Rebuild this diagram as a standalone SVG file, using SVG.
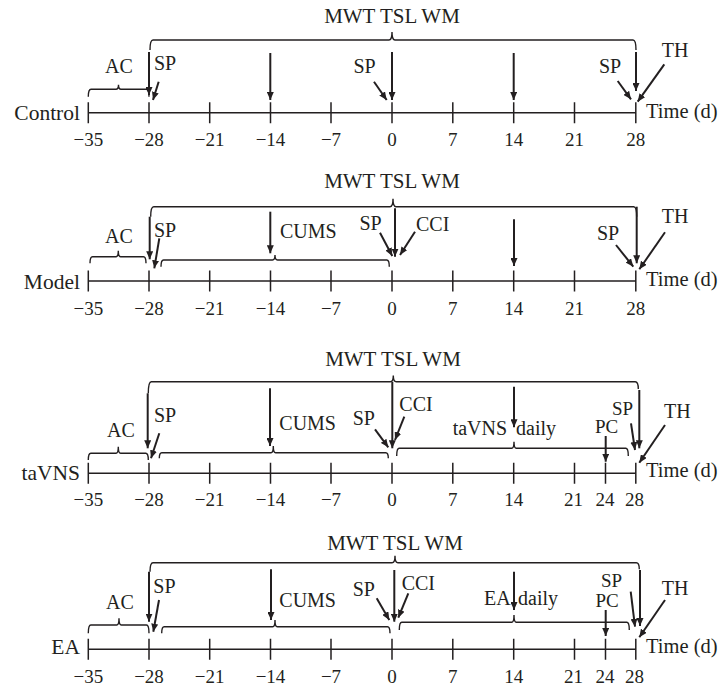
<svg xmlns="http://www.w3.org/2000/svg" width="720" height="686" viewBox="0 0 720 686">
<defs>
<style>
text{font-family:"Liberation Serif","Times New Roman",serif;fill:#231f20;font-size:20px}
.n{font-size:19px;text-anchor:middle}
.m{text-anchor:middle}
.w{font-size:21px}
.e{text-anchor:end;font-size:21.5px}
.td{font-size:20.5px}
.s{font-size:19px}
.ax{stroke:#231f20;stroke-width:1.5;fill:none}
.br{stroke:#231f20;stroke-width:1.4;fill:none}
.ar{stroke:#231f20;stroke-width:2;fill:none;marker-end:url(#ah)}
</style>
<marker id="ah" viewBox="0 0 8 7" refX="8" refY="3.5" markerWidth="8" markerHeight="7" markerUnits="userSpaceOnUse" orient="auto">
<path d="M0,0 L8,3.5 L0,7 z" fill="#231f20"/>
</marker>
</defs>

<g id="axes">
<g id="axis-control">
<path class="ax" d="M88.3,112.7 H635.8 M88.3,102.2 V123.2 M149,102.2 V123.2 M209.7,102.2 V123.2 M270.5,102.2 V123.2 M331,102.2 V123.2 M392,102.2 V123.2 M452.8,102.2 V123.2 M513.7,102.2 V123.2 M574.5,102.2 V123.2 M635.8,102.2 V123.2"/>
<text class="n" x="88.3" y="146">−35</text><text class="n" x="149" y="146">−28</text><text class="n" x="209.7" y="146">−21</text><text class="n" x="270.5" y="146">−14</text><text class="n" x="331" y="146">−7</text><text class="n" x="392" y="146">0</text><text class="n" x="452.8" y="146">7</text><text class="n" x="513.7" y="146">14</text><text class="n" x="574.5" y="146">21</text><text class="n" x="635.8" y="146">28</text>
<text class="e" x="80" y="120">Control</text>
<text class="td" x="646" y="118">Time (d)</text>
</g>
<g id="axis-model">
<path class="ax" d="M88.3,281 H635.8 M88.3,270.5 V291.5 M149,270.5 V291.5 M209.7,270.5 V291.5 M270.5,270.5 V291.5 M331,270.5 V291.5 M392,270.5 V291.5 M452.8,270.5 V291.5 M513.7,270.5 V291.5 M574.5,270.5 V291.5 M635.8,270.5 V291.5"/>
<text class="n" x="88.3" y="314.5">−35</text><text class="n" x="149" y="314.5">−28</text><text class="n" x="209.7" y="314.5">−21</text><text class="n" x="270.5" y="314.5">−14</text><text class="n" x="331" y="314.5">−7</text><text class="n" x="392" y="314.5">0</text><text class="n" x="452.8" y="314.5">7</text><text class="n" x="513.7" y="314.5">14</text><text class="n" x="574.5" y="314.5">21</text><text class="n" x="635.8" y="314.5">28</text>
<text class="e" x="80" y="288.5">Model</text>
<text class="td" x="646" y="285.5">Time (d)</text>
</g>
<g id="axis-tavns">
<path class="ax" d="M88.3,473.3 H635.8 M88.3,462.8 V483.8 M149,462.8 V483.8 M209.7,462.8 V483.8 M270.5,462.8 V483.8 M331,462.8 V483.8 M392,462.8 V483.8 M452.8,462.8 V483.8 M513.7,462.8 V483.8 M574.5,462.8 V483.8 M605.5,462.8 V483.8 M635.8,462.8 V483.8"/>
<text class="n" x="88.3" y="506">−35</text><text class="n" x="149" y="506">−28</text><text class="n" x="209.7" y="506">−21</text><text class="n" x="270.5" y="506">−14</text><text class="n" x="331" y="506">−7</text><text class="n" x="392" y="506">0</text><text class="n" x="452.8" y="506">7</text><text class="n" x="513.7" y="506">14</text><text class="n" x="573.5" y="506">21</text><text class="n" x="605" y="506">24</text><text class="n" x="634.5" y="506">28</text>
<text class="e" x="80" y="480">taVNS</text>
<text class="td" x="646" y="477">Time (d)</text>
</g>
<g id="axis-ea">
<path class="ax" d="M88.3,649.3 H635.8 M88.3,638.8 V659.8 M149,638.8 V659.8 M209.7,638.8 V659.8 M270.5,638.8 V659.8 M331,638.8 V659.8 M392,638.8 V659.8 M452.8,638.8 V659.8 M513.7,638.8 V659.8 M574.5,638.8 V659.8 M605.5,638.8 V659.8 M635.8,638.8 V659.8"/>
<text class="n" x="88.3" y="683">−35</text><text class="n" x="149" y="683">−28</text><text class="n" x="209.7" y="683">−21</text><text class="n" x="270.5" y="683">−14</text><text class="n" x="331" y="683">−7</text><text class="n" x="392" y="683">0</text><text class="n" x="452.8" y="683">7</text><text class="n" x="513.7" y="683">14</text><text class="n" x="573.5" y="683">21</text><text class="n" x="605" y="683">24</text><text class="n" x="634.5" y="683">28</text>
<text class="e" x="80" y="654">EA</text>
<text class="td" x="646" y="653">Time (d)</text>
</g>
</g>

<g id="brackets">
<g id="br-mwt-1"><path class="br" d="M150,50 Q150,40 153,40 L389,40 Q392,40 392,32 Q392,40 395,40 L633,40 Q636,40 636,50"/><text class="m w" x="392" y="23">MWT TSL WM</text></g>
<g id="br-ac-1"><path class="br" d="M88.3,96.7 Q88.3,89.3 91,89.3 L116,89.3 Q118.5,89.3 118.5,84.8 Q118.5,89.3 121,89.3 L146.5,89.3 Q149,89.3 149,96.7"/><text class="m" x="119" y="73">AC</text></g>

<g id="br-mwt-2"><path class="br" d="M150.7,216.7 Q150.7,206.7 153.7,206.7 L390,206.7 Q393,206.7 393,198.7 Q393,206.7 396,206.7 L633.7,206.7 Q636.7,206.7 636.7,216.7"/><text class="m w" x="392" y="188">MWT TSL WM</text></g>
<g id="br-ac-2"><path class="br" d="M90,263.3 Q90,256.7 92.5,256.7 L116,256.7 Q118.3,256.7 118.3,250.7 Q118.3,256.7 120.6,256.7 L143.5,256.7 Q146,256.7 146,263.3"/><text class="m" x="119" y="242.7">AC</text></g>
<g id="br-cums-2"><path class="br" d="M161,266.7 Q161,260 163.5,260 L272.5,260 Q275,260 275,255 Q275,260 277.5,260 L386.8,260 Q389.3,260 389.3,266.7"/><text x="280" y="238.3">CUMS</text></g>

<g id="br-mwt-3"><path class="br" d="M148.3,393.3 Q148.3,381.7 151.3,381.7 L390.3,381.7 Q393.3,381.7 393.3,375.5 Q393.3,381.7 396.3,381.7 L635.3,381.7 Q638.3,381.7 638.3,389"/><text class="m w" x="393" y="366">MWT TSL WM</text></g>
<g id="br-ac-3"><path class="br" d="M88.3,460 Q88.3,453.3 90.8,453.3 L116,453.3 Q118.3,453.3 118.3,446.7 Q118.3,453.3 120.6,453.3 L145.8,453.3 Q148.3,453.3 148.3,460"/><text class="m" x="121" y="436.7">AC</text></g>
<g id="br-cums-3"><path class="br" d="M159.3,458.3 Q159.3,452.7 161.8,452.7 L271,452.7 Q273.3,452.7 273.3,446 Q273.3,452.7 275.6,452.7 L385.8,452.7 Q388.3,452.7 388.3,458.3"/><text x="279.3" y="430">CUMS</text></g>
<g id="br-tavns-3"><path class="br" d="M396.7,456 Q396.7,448.3 399.2,448.3 L511.7,448.3 Q514,448.3 514,441.7 Q514,448.3 516.3,448.3 L625.8,448.3 Q628.3,448.3 628.3,456"/><text x="452.7" y="435">taVNS <tspan x="516">daily</tspan></text></g>

<g id="br-mwt-4"><path class="br" d="M150,571.7 Q150,562.7 153,562.7 L392,562.7 Q395,562.7 395,555.7 Q395,562.7 398,562.7 L636.3,562.7 Q639.3,562.7 639.3,569.3"/><text class="m w" x="395" y="550">MWT TSL WM</text></g>
<g id="br-ac-4"><path class="br" d="M88.3,633.3 Q88.3,625 90.8,625 L116.7,625 Q119,625 119,618.3 Q119,625 121.3,625 L146.5,625 Q149,625 149,633.3"/><text class="m" x="120" y="609.3">AC</text></g>
<g id="br-cums-4"><path class="br" d="M161.7,633.3 Q161.7,626.7 164.2,626.7 L272.7,626.7 Q275,626.7 275,620 Q275,626.7 277.3,626.7 L387.5,626.7 Q390,626.7 390,633.3"/><text x="279.3" y="606.7">CUMS</text></g>
<g id="br-ea-4"><path class="br" d="M399.3,630 Q399.3,622.3 401.8,622.3 L511.7,622.3 Q514,622.3 514,615 Q514,622.3 516.3,622.3 L626.8,622.3 Q629.3,622.3 629.3,630"/><text x="484" y="605">EA <tspan x="518">daily</tspan></text></g>
</g>

<g id="labels">
<text x="154" y="70">SP</text>
<text class="e" x="375.7" y="73" style="font-size:20px">SP</text>
<text x="599" y="73">SP</text>
<text x="661.7" y="56.7">TH</text>

<text x="154" y="236.7">SP</text>
<text class="e" x="381.7" y="230" style="font-size:20px">SP</text>
<text x="416" y="231">CCI</text>
<text x="597" y="240">SP</text>
<text x="661.7" y="223.3">TH</text>

<text x="154" y="421.7">SP</text>
<text class="e" x="375" y="425" style="font-size:20px">SP</text>
<text x="399.3" y="410.7">CCI</text>
<text class="s" x="595" y="433">PC</text>
<text class="s" x="612" y="415">SP</text>
<text x="664" y="418.3">TH</text>

<text x="153.3" y="593.3">SP</text>
<text class="e" x="375" y="596" style="font-size:20px">SP</text>
<text x="401.7" y="590">CCI</text>
<text class="s" x="601" y="586.5">SP</text>
<text class="s" x="595.5" y="607">PC</text>
<text x="661.7" y="595">TH</text>
</g>

<g id="connectors">
<line class="ar" x1="149" y1="52" x2="149" y2="95"/>
<line class="ar" x1="270.3" y1="53" x2="270.3" y2="100"/>
<line class="ar" x1="392" y1="52" x2="392" y2="100"/>
<line class="ar" x1="513.7" y1="53" x2="513.7" y2="100"/>
<line class="ar" x1="636" y1="52" x2="636" y2="91"/>
<line class="ar" x1="158.7" y1="81.7" x2="153" y2="100"/>
<line class="ar" x1="374" y1="81.7" x2="386.7" y2="100"/>
<line class="ar" x1="617.7" y1="81" x2="631" y2="99.3"/>
<line class="ar" x1="664.3" y1="64.3" x2="637.7" y2="101.7"/>

<line class="ar" x1="149.7" y1="216.7" x2="149.7" y2="259.3"/>
<line class="ar" x1="159.3" y1="238.3" x2="154.3" y2="268.3"/>
<line class="ar" x1="270.3" y1="211.7" x2="270.3" y2="253.3"/>
<line class="ar" x1="380" y1="232.7" x2="392.3" y2="256"/>
<line class="ar" x1="395" y1="208.3" x2="395" y2="256.7"/>
<line class="ar" x1="415" y1="231.7" x2="400" y2="255"/>
<line class="ar" x1="514" y1="219.3" x2="514" y2="266"/>
<line class="ar" x1="636.7" y1="206.7" x2="636.7" y2="263.3"/>
<line class="ar" x1="616" y1="245" x2="633.3" y2="266.7"/>
<line class="ar" x1="665" y1="232.3" x2="639.3" y2="269.3"/>

<line class="ar" x1="147.7" y1="393.3" x2="147.7" y2="448.3"/>
<line class="ar" x1="159.3" y1="433.3" x2="151" y2="458.3"/>
<line class="ar" x1="270" y1="388.3" x2="270" y2="446"/>
<line class="ar" x1="375" y1="429.3" x2="388.3" y2="447.3"/>
<line class="ar" x1="392.3" y1="381.7" x2="392.3" y2="448.3"/>
<line class="ar" x1="404.3" y1="416.7" x2="395" y2="440"/>
<line class="ar" x1="514" y1="386.7" x2="514" y2="427.3"/>
<line class="ar" x1="605.7" y1="436" x2="605.7" y2="461.7"/>
<line class="ar" x1="631" y1="423.3" x2="635" y2="450"/>
<line class="ar" x1="639.3" y1="390" x2="639.3" y2="448.3"/>
<line class="ar" x1="665" y1="425" x2="639.3" y2="462.7"/>

<line class="ar" x1="149" y1="571.7" x2="149" y2="621.7"/>
<line class="ar" x1="159" y1="600" x2="153.3" y2="631.7"/>
<line class="ar" x1="271" y1="569.3" x2="271" y2="620"/>
<line class="ar" x1="376.7" y1="598.3" x2="389.3" y2="620"/>
<line class="ar" x1="394.3" y1="570" x2="394.3" y2="621.7"/>
<line class="ar" x1="408.3" y1="593.3" x2="398.3" y2="617.7"/>
<line class="ar" x1="514" y1="571.7" x2="514" y2="610"/>
<line class="ar" x1="605.7" y1="610" x2="605.7" y2="636"/>
<line class="ar" x1="630.7" y1="591.7" x2="635" y2="626.7"/>
<line class="ar" x1="640" y1="570" x2="640" y2="626"/>
<line class="ar" x1="665" y1="600" x2="639.3" y2="637.3"/>
</g>
</svg>
